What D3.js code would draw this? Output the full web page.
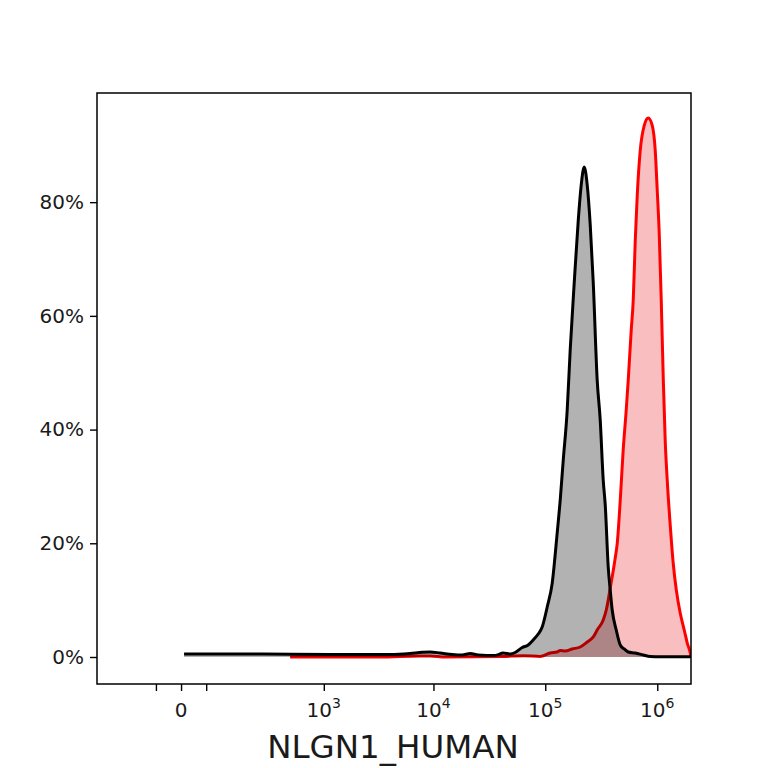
<!DOCTYPE html>
<html>
<head>
<meta charset="utf-8">
<script src="https://cdn.jsdelivr.net/npm/d3@7"></script>
<style>
  body { margin: 0; background: #fff; }
  text { font-family: "DejaVu Sans", sans-serif; fill: #1a1a1a; }
</style>
</head>
<body>
<div id="chart"></div>
<script>
// control (black) histogram: fluorescence value, % of max
var controlValues = [3.6, 229, 1147, 4075, 6170, 7920, 9340, 11490, 14710, 18080, 21330, 25140,
  35700, 42100, 48600, 53860, 62270, 70420, 78060, 86500, 93900, 104100, 115400, 127800,
  136000, 144700, 157000, 167000, 181400, 197100, 209400, 222700, 237000, 252100, 268300,
  290900, 309500, 329300, 343300, 365000, 380000, 396000, 430200, 467400, 506700, 550500,
  636200, 749700, 865500, 1063000, 2000000];
var controlPercent = [0.53, 0.53, 0.44, 0.44, 0.62, 0.83, 0.88, 0.70, 0.44, 0.35, 0.62, 0.35,
  0.26, 0.70, 0.53, 0.79, 1.67, 2.11, 2.99, 4.04, 5.27, 8.79, 13.0, 21.8,
  27.6, 34.6, 43.4, 54.0, 65.8, 76.8, 83.0, 86.2, 83.0, 76.0, 65.8,
  48.7, 41.7, 31.1, 26.7, 15.8, 11.8, 8.26, 4.75, 2.11, 1.41, 0.88,
  0.70, 0.35, 0.09, 0.04, 0.04];

// NLGN1 stained (red) histogram
var stainedValues = [472, 3304, 7590, 9340, 12730, 42100, 63550, 90100, 110800, 127800, 136000,
  150800, 174000, 205200, 237000, 268300, 290900, 329300, 350500, 365000, 380000, 396000,
  421400, 439200, 467400, 496300, 528100, 550500, 585600, 610300, 636200, 662600, 704800,
  765400, 831200, 901400, 958800, 999200, 1041000, 1085000, 1132000, 1177000, 1227000,
  1305000, 1389000, 1478000, 1602000, 1740000, 1852000, 1970000, 2000000];
var stainedPercent = [0.0, 0.0, 0.18, 0.18, 0.0, 0.09, 0.23, 0.09, 0.70, 0.88, 1.14,
  1.05, 1.41, 1.76, 2.64, 3.52, 4.75, 6.51, 8.26, 10.0, 12.1, 14.1,
  17.4, 20.0, 27.6, 36.4, 43.4, 48.7, 57.5, 62.8, 73.3, 81.2, 89.1,
  93.5, 94.8, 93.5, 89.1, 82.1, 74.5, 62.8, 48.7, 38.1, 31.1,
  23.2, 16.4, 11.8, 7.74, 4.75, 2.46, 0.70, 0.0];

var yTicks = [0, 20, 40, 60, 80];
var xMajorTicks = [0, 1e3, 1e4, 1e5, 1e6];
var xMinorTicks = [-38, 38];
var xLabel = "NLGN1_HUMAN";

var width = 768, height = 768;
var margin = { top: 93, right: 77, bottom: 84, left: 97 };
var plotW = width - margin.left - margin.right;
var plotH = height - margin.top - margin.bottom;

var x = d3.scaleSymlog().constant(56.2).domain([-260, 2.0e6]).range([0, plotW]);
var y = d3.scaleLinear().domain([-4.75, 99.2]).range([plotH, 0]);

var svg = d3.select("#chart").append("svg")
  .attr("width", width)
  .attr("height", height);

var g = svg.append("g")
  .attr("transform", "translate(" + margin.left + "," + margin.top + ")");

g.append("clipPath").attr("id", "clip")
  .append("rect").attr("width", plotW).attr("height", plotH);

function toPoints(vals, pcts) {
  return vals.map(function(v, i) { return { v: v, p: pcts[i] }; });
}

var area = d3.area()
  .x(function(d) { return x(d.v); })
  .y0(y(0))
  .y1(function(d) { return y(d.p); })
  .curve(d3.curveMonotoneX);

var line = d3.line()
  .x(function(d) { return x(d.v); })
  .y(function(d) { return y(d.p); })
  .curve(d3.curveMonotoneX);

var series = [
  { data: toPoints(stainedValues, stainedPercent), color: "red", fill: "#e8191c", alpha: 0.28 },
  { data: toPoints(controlValues, controlPercent), color: "black", fill: "black", alpha: 0.3 }
];

var plot = g.append("g").attr("clip-path", "url(#clip)");

series.forEach(function(s) {
  plot.append("path")
    .datum(s.data)
    .attr("d", area)
    .attr("fill", s.fill)
    .attr("fill-opacity", s.alpha);
  plot.append("path")
    .datum(s.data)
    .attr("d", line)
    .attr("fill", "none")
    .attr("stroke", s.color)
    .attr("stroke-width", 3)
    .attr("stroke-linejoin", "round");
});

// frame
g.append("rect")
  .attr("width", plotW)
  .attr("height", plotH)
  .attr("fill", "none")
  .attr("stroke", "black")
  .attr("stroke-width", 1.5);

// y axis
var yAxis = d3.axisLeft(y)
  .tickValues(yTicks)
  .tickSize(7)
  .tickPadding(6)
  .tickFormat(function(d) { return d + "%"; });

var ya = g.append("g").call(yAxis);
ya.select(".domain").remove();
ya.selectAll("line").attr("stroke", "black").attr("stroke-width", 1.4);
ya.selectAll("text")
  .style("font-family", "DejaVu Sans, sans-serif")
  .style("font-size", "20px")
  .attr("fill", "#1a1a1a");

// x axis
var xAxis = d3.axisBottom(x)
  .tickValues(xMinorTicks.concat(xMajorTicks))
  .tickSize(7)
  .tickFormat("");

var xa = g.append("g")
  .attr("transform", "translate(0," + plotH + ")")
  .call(xAxis);
xa.select(".domain").remove();
xa.selectAll("line").attr("stroke", "black").attr("stroke-width", 1.4);

xMajorTicks.forEach(function(t) {
  var lab = g.append("text")
    .attr("x", x(t))
    .attr("y", plotH + 33)
    .attr("text-anchor", "middle")
    .style("font-size", "20px");
  if (t === 0) {
    lab.text("0");
  } else {
    lab.append("tspan").text("10");
    lab.append("tspan")
      .attr("dy", -9)
      .style("font-size", "14px")
      .text(Math.round(Math.log10(t)));
  }
});

svg.append("text")
  .attr("x", 393)
  .attr("y", 758)
  .attr("text-anchor", "middle")
  .style("font-size", "32.5px")
  .text(xLabel);
</script>
</body>
</html>
